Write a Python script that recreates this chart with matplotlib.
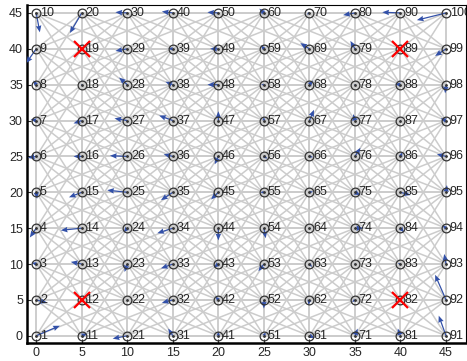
import numpy as np
import matplotlib.pyplot as plt

# grid of nodes, numbered column by column (1..10 at x=0, 11..20 at x=5, ...)
grid_x = np.arange(0, 50, 5)
grid_y = np.arange(0, 50, 5)
node_ids = np.arange(1, 101)

# neighbour offsets (in grid steps) used for the grey links
link_offsets = [(1, 0), (0, 1), (1, 1), (1, -1), (2, 0), (0, 2),
                (1, 2), (2, 1), (1, -2), (2, -1)]

# marked (red x) nodes
marked = [12, 19, 82, 89]

# arrow components per node, node 1..100
arrow_u = [2.6, 1.2, -0.5, -0.7, 0.1, -0.9, -0.6, -0.3, -1.1, 0.4,
           0.6, 0.0, -1.2, -2.3, -1.4, -0.9, -0.9, 0.0, 0.0, -1.3,
           -1.6, 0.0, -0.3, -0.4, -2.2, -1.9, -1.4, -0.9, -1.3, -1.3,
           -0.5, -1.2, -1.3, -1.7, -1.3, -1.0, -1.5, -0.8, -0.5, -1.2,
           0.0, -0.3, -0.5, 0.0, -0.8, -0.4, 0.0, -1.2, -0.9, -1.2,
           0.2, 0.0, -0.6, 0.2, -0.4, 0.4, 0.0, -0.3, -0.3, -0.5,
           0.6, -0.1, 0.3, 0.2, 0.4, 0.4, 0.5, 0.4, -1.0, -0.3,
           0.3, -0.3, 0.1, 0.9, 0.6, 0.6, -0.2, 0.0, -0.5, -1.3,
           -0.3, 0.0, -0.3, 0.4, 1.1, 0.2, 0.0, -0.6, 0.0, -2.0,
           -0.8, -1.2, -0.2, -0.4, 0.1, -1.0, -0.6, -0.1, -1.2, -3.2]
arrow_v = [1.4, -0.4, 0.2, -1.3, -0.9, -0.2, 0.2, 0.6, -2.0, -2.7,
           0.3, 0.0, 0.3, -0.3, -0.7, 0.0, -0.4, 0.0, 0.0, -2.8,
           -0.4, 0.0, -1.1, -0.6, 0.3, 0.1, 0.3, 1.0, -0.3, 0.1,
           1.0, -0.4, -0.6, -0.7, -1.1, 0.3, 0.7, 0.4, 0.0, 0.2,
           0.6, 0.5, -0.5, -1.7, -1.0, -1.1, 1.3, 0.0, 0.0, 0.1,
           0.5, -1.2, -1.0, -1.4, 0.0, -0.3, 0.5, 0.0, 0.5, 0.6,
           -0.3, -0.7, -0.4, 0.0, 0.1, -0.1, 1.5, 0.6, 0.8, -0.2,
           1.0, -0.3, -0.1, 0.0, -0.4, 1.2, 0.9, 0.1, 1.1, -0.3,
           1.0, 0.0, 0.1, -0.6, -0.4, 0.6, 0.0, 0.1, 0.0, 0.1,
           2.8, 3.5, 1.4, 0.4, 1.0, 0.3, 0.3, -1.2, -1.0, -1.0]

plt.rcParams['font.family'] = ['Liberation Sans', 'DejaVu Sans']

gx, gy = np.meshgrid(grid_x, grid_y, indexing='ij')
node_x = gx.ravel()
node_y = gy.ravel()
n = len(grid_x)

fig = plt.figure(figsize=(4.67, 3.61), dpi=100)
ax = fig.add_axes([0.058, 0.05, 0.94, 0.936])

# grey links between nearby nodes
for i in range(n):
    for j in range(n):
        for di, dj in link_offsets:
            i2, j2 = i + di, j + dj
            if 0 <= i2 < n and 0 <= j2 < n:
                ax.plot([grid_x[i], grid_x[i2]], [grid_y[j], grid_y[j2]],
                        color='#cccccc', lw=1.1, zorder=1)

# arrows
ax.quiver(node_x, node_y, arrow_u, arrow_v, angles='xy', scale_units='xy',
          scale=1, color='#3250a8', width=0.0028, headwidth=4.5, headlength=5.5,
          headaxislength=5, zorder=3)

# nodes
ax.plot(node_x, node_y, 'o', mfc='none', mec='#333333', ms=6.3, mew=0.9, zorder=4)
ax.plot(node_x, node_y, '.', color='#333333', ms=2, zorder=4)

for k in marked:
    ax.plot(node_x[k - 1], node_y[k - 1], 'x', color='red', ms=11, mew=1.6, zorder=5)

for k, x, y in zip(node_ids, node_x, node_y):
    ax.text(x + 0.4, y, str(k), fontsize=9, color='#262626',
            ha='left', va='center', zorder=6, clip_on=True)

ax.set_xlim(-1, 47.2)
ax.set_ylim(-1, 46.1)
ax.set_xticks(grid_x)
ax.set_yticks(grid_y)
ax.tick_params(direction='in', length=3, labelsize=9, colors='#262626', pad=3)
for s in ['left', 'bottom']:
    ax.spines[s].set_linewidth(1.8)
for s in ['top', 'right']:
    ax.spines[s].set_linewidth(0.8)

fig.savefig('out.png', dpi=100)
